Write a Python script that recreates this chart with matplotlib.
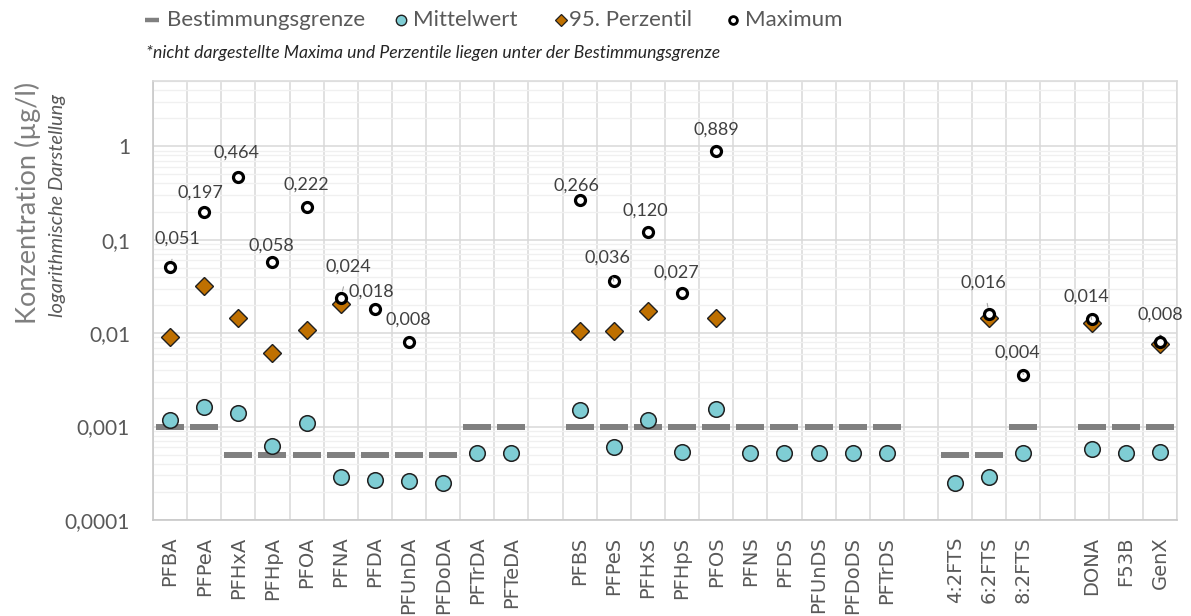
import numpy as np
import matplotlib
matplotlib.use("Agg")
import matplotlib.pyplot as plt
from matplotlib.lines import Line2D
from matplotlib.ticker import FixedLocator, LogLocator, NullFormatter

nan = np.nan

# Substance groups (a blank slot is left between groups)
groups = [
    ["PFBA", "PFPeA", "PFHxA", "PFHpA", "PFOA", "PFNA", "PFDA", "PFUnDA",
     "PFDoDA", "PFTrDA", "PFTeDA"],
    ["PFBS", "PFPeS", "PFHxS", "PFHpS", "PFOS", "PFNS", "PFDS", "PFUnDS",
     "PFDoDS", "PFTrDS"],
    ["4:2FTS", "6:2FTS", "8:2FTS"],
    ["DONA", "F53B", "GenX"],
]

# Concentrations in µg/l, in the same order as the substances above
bestimmungsgrenze = [
    0.001, 0.001, 0.0005, 0.0005, 0.0005, 0.0005, 0.0005, 0.0005, 0.0005, 0.001, 0.001,
    0.001, 0.001, 0.001, 0.001, 0.001, 0.001, 0.001, 0.001, 0.001, 0.001,
    0.0005, 0.0005, 0.001,
    0.001, 0.001, 0.001,
]
mittelwert = [
    0.00118, 0.00164, 0.00141, 0.00062, 0.0011, 0.00029, 0.00027, 0.00026, 0.00025, 0.00052, 0.00052,
    0.00149, 0.0006, 0.00118, 0.00053, 0.00153, 0.00052, 0.00052, 0.00052, 0.00052, 0.00052,
    0.00025, 0.00029, 0.00052,
    0.00057, 0.00052, 0.00053,
]
perzentil95 = [
    0.009, 0.032, 0.0146, 0.0062, 0.0108, 0.0205, nan, nan, nan, nan, nan,
    0.0105, 0.0105, 0.0173, nan, 0.0147, nan, nan, nan, nan, nan,
    nan, 0.0147, nan,
    0.0129, nan, 0.0077,
]
maximum = [
    0.051, 0.197, 0.464, 0.058, 0.222, 0.024, 0.018, 0.008, nan, nan, nan,
    0.266, 0.036, 0.120, 0.027, 0.889, nan, nan, nan, nan, nan,
    nan, 0.016, 0.0036,
    0.014, nan, 0.008,
]

yticks = [0.0001, 0.001, 0.01, 0.1, 1]
ytick_labels = ["0,0001", "0,001", "0,01", "0,1", "1"]

legend_labels = ["Bestimmungsgrenze", "Mittelwert", "95. Perzentil", "Maximum"]

# Label placement for the maximum values (pixel offsets, leader line flag)
label_offsets = {
    "PFBA": (7, 28, True), "PFPeA": (-4, 20, False), "PFHxA": (-2, 25, False),
    "PFHpA": (-1, 16, False), "PFOA": (0, 23, False), "PFNA": (8, 31, True),
    "PFDA": (-4, 18, False), "PFUnDA": (-1, 23, False), "PFBS": (-3, 14, False),
    "PFPeS": (-6, 24, True), "PFHxS": (-3, 22, False), "PFHpS": (-6, 20, False),
    "PFOS": (0, 21, False), "6:2FTS": (-6, 31, True), "8:2FTS": (-6, 22, True),
    "DONA": (-5, 23, True), "GenX": (0, 28, True),
}

# x positions with one empty slot between groups
categories, xpos = [], []
slot = 0
for g in groups:
    for name in g:
        categories.append(name)
        xpos.append(slot)
        slot += 1
    slot += 1
n_slots = slot - 1
xpos = np.array(xpos, dtype=float)

TXT = "#595959"
GRID = "#d9d9d9"
MAIN_FONT = ["Lato", "DejaVu Sans"]

BG_STYLE = dict(marker="_", color="#808080")
MW_STYLE = dict(marker="o", mfc="#7fcdd4", mec="#1f1f1f")
P95_STYLE = dict(marker="D", mfc="#bf7000", mec="#1f1f1f")
MAX_STYLE = dict(marker="o", mfc="white", mec="black")

fig = plt.figure(figsize=(11.91, 6.16), dpi=100)
W, H = 1191, 616
ax = fig.add_axes([153 / W, 1 - 520 / H, (1177 - 153) / W, (520 - 81) / H])

ax.set_yscale("log")
ax.set_ylim(1e-4, 5)
ax.set_xlim(-0.5, n_slots - 0.5)

# grid
ax.set_xticks(xpos)
ax.set_xticks(np.arange(-0.5, n_slots, 1.0), minor=True)
ax.yaxis.set_major_locator(FixedLocator(yticks))
ax.yaxis.set_minor_locator(LogLocator(base=10, subs=np.arange(2, 10)))
ax.yaxis.set_minor_formatter(NullFormatter())
ax.grid(which="minor", axis="x", color=GRID, lw=1.1, zorder=0)
ax.grid(which="major", axis="x", visible=False)
ax.grid(which="major", axis="y", color=GRID, lw=1.1, zorder=0)
ax.grid(which="minor", axis="y", color="#f0f0f0", lw=1.0, zorder=0)
ax.set_axisbelow(True)
ax.tick_params(which="both", length=0)

ax.set_xticklabels(categories, rotation=90, fontsize=14, color=TXT,
                   family="DejaVu Sans")
ax.tick_params(axis="x", pad=12)
ax.set_yticklabels(ytick_labels, fontsize=15, color=TXT, family=MAIN_FONT)
ax.tick_params(axis="y", pad=16.5)

for s in ["left", "bottom"]:
    ax.spines[s].set_color("#c8c8c8")
    ax.spines[s].set_linewidth(1.2)
for s in ["top", "right"]:
    ax.spines[s].set_color(GRID)
    ax.spines[s].set_linewidth(1.1)

# series
ax.plot(xpos, bestimmungsgrenze, ls="none", ms=19.5, mew=4.3, zorder=3, **BG_STYLE)
ax.plot(xpos, mittelwert, ls="none", ms=11.2, mew=1.1, zorder=4, **MW_STYLE)
ax.plot(xpos, perzentil95, ls="none", ms=9.3, mew=1.0, zorder=5, **P95_STYLE)
ax.plot(xpos, maximum, ls="none", ms=7.2, mew=2.3, zorder=6, **MAX_STYLE)

# value labels for the maxima
for name, x, v in zip(categories, xpos, maximum):
    if np.isnan(v):
        continue
    dx, dy, leader = label_offsets.get(name, (0, 22, False))
    txt = f"{v:.3f}".replace(".", ",")
    kw = {}
    if leader:
        kw["arrowprops"] = dict(arrowstyle="-", color="#a6a6a6", lw=0.8,
                                shrinkA=7, shrinkB=5)
    ax.annotate(txt, xy=(x, v), xytext=(dx, dy), textcoords="offset pixels",
                ha="center", va="center", fontsize=13, color="#404040",
                family=MAIN_FONT, zorder=7, **kw)

# axis titles
fig.text(28 / W, 1 - 203 / H, "Konzentration (µg/l)", rotation=90,
         ha="center", va="center", fontsize=19.5, color="#7f7f7f", family=MAIN_FONT)
fig.text(58 / W, 1 - 205 / H, "logarithmische Darstellung", rotation=90,
         ha="center", va="center", fontsize=14.5, style="italic", color=TXT,
         family=MAIN_FONT)

# legend row across the top
legend_handles = [
    (152, dict(ms=10, mew=3.2, **BG_STYLE)),
    (401, dict(ms=7.5, mew=1.0, **MW_STYLE)),
    (561, dict(ms=6.3, mew=0.9, **P95_STYLE)),
    (733, dict(ms=5.6, mew=2.0, **MAX_STYLE)),
]
legend_text_x = [167, 413, 569, 745]
ly = 1 - 20 / H
for (hx, style), tx, lab in zip(legend_handles, legend_text_x, legend_labels):
    fig.add_artist(Line2D([hx / W], [ly], ls="none", transform=fig.transFigure, **style))
    fig.text(tx / W, ly, lab, ha="left", va="center", fontsize=16, color=TXT,
             family=MAIN_FONT)

fig.text(146 / W, 1 - 53 / H,
         "*nicht dargestellte Maxima und Perzentile liegen unter der Bestimmungsgrenze",
         ha="left", va="center", fontsize=12.7, style="italic", color="#262626",
         family=MAIN_FONT)

fig.savefig("out.png", dpi=100, facecolor="white")
